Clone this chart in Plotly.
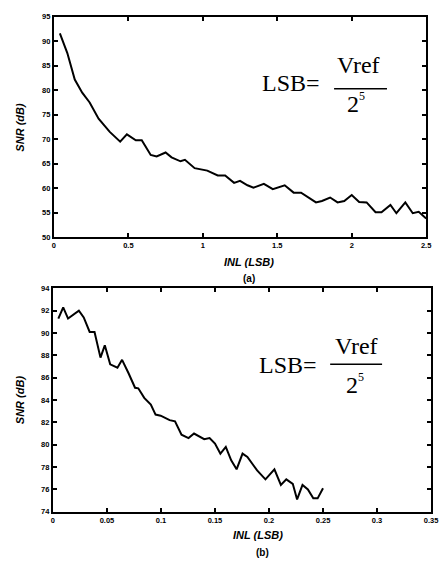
import plotly.graph_objects as go

# ---- data (a) ----
inl_a = [0.04, 0.09, 0.14, 0.19, 0.24, 0.30, 0.375, 0.445, 0.49, 0.55, 0.59, 0.65, 0.69, 0.75,
         0.79, 0.85, 0.88, 0.945, 1.03, 1.10, 1.15, 1.21, 1.25, 1.30, 1.34, 1.41, 1.47, 1.55,
         1.61, 1.66, 1.76, 1.80, 1.855, 1.905, 1.95, 2.0, 2.05, 2.10, 2.16, 2.20, 2.26, 2.30,
         2.36, 2.41, 2.45, 2.50]
snr_a = [91.6, 87.6, 82.2, 79.5, 77.5, 74.2, 71.5, 69.5, 71.0, 69.8, 69.8, 66.8, 66.5, 67.3,
         66.3, 65.5, 65.8, 64.1, 63.6, 62.6, 62.6, 61.1, 61.5, 60.6, 60.1, 60.9, 59.8, 60.6,
         59.1, 59.1, 57.1, 57.4, 58.1, 57.1, 57.4, 58.6, 57.2, 57.1, 55.1, 55.1, 56.6, 54.9,
         57.1, 54.9, 55.2, 53.8]

# ---- data (b) ----
inl_b = [0.005, 0.0095, 0.014, 0.024, 0.0285, 0.034, 0.0385, 0.044, 0.048, 0.053, 0.0597,
         0.064, 0.070, 0.076, 0.079, 0.0845, 0.0906, 0.095, 0.0997, 0.108, 0.113, 0.119,
         0.1255, 0.1306, 0.140, 0.145, 0.150, 0.155, 0.160, 0.165, 0.170, 0.1755, 0.180,
         0.189, 0.1967, 0.205, 0.211, 0.216, 0.222, 0.226, 0.231, 0.236, 0.241, 0.245, 0.250]
snr_b = [91.3, 92.3, 91.3, 92.0, 91.4, 90.1, 90.1, 87.8, 88.9, 87.2, 86.9, 87.6, 86.4, 85.1,
         85.05, 84.2, 83.6, 82.7, 82.6, 82.2, 82.1, 80.9, 80.6, 81.0, 80.5, 80.6, 80.1, 79.2,
         79.8, 78.6, 77.8, 79.2, 78.9, 77.7, 76.9, 77.8, 76.4, 76.9, 76.5, 75.1, 76.4, 76.0,
         75.2, 75.2, 76.1]

xticks_a = [0, 0.5, 1, 1.5, 2, 2.5]
xticklabels_a = ["0", "0.5", "1", "1.5", "2", "2.5"]
yticks_a = [50, 55, 60, 65, 70, 75, 80, 85, 90, 95]
xticks_b = [0, 0.05, 0.1, 0.15, 0.2, 0.25, 0.3, 0.35]
xticklabels_b = ["0", "0.05", "0.1", "0.15", "0.2", "0.25", "0.3", "0.35"]
yticks_b = [74, 76, 78, 80, 82, 84, 86, 88, 90, 92, 94]

W, H = 441, 563


def px(x):
    return x / W


def py(y):
    return 1 - y / H


fig = go.Figure()
fig.add_trace(go.Scatter(x=inl_a, y=snr_a, mode="lines", line=dict(color="black", width=2),
                         xaxis="x", yaxis="y", showlegend=False))
fig.add_trace(go.Scatter(x=inl_b, y=snr_b, mode="lines", line=dict(color="black", width=2),
                         xaxis="x2", yaxis="y2", showlegend=False))

tickfont = dict(family="Liberation Sans", size=7.5, color="black", weight="bold")
common = dict(showline=True, linecolor="black", linewidth=2, mirror="allticks", ticks="inside",
              ticklen=4, tickwidth=1.5, tickcolor="black", showgrid=False, zeroline=False,
              tickfont=tickfont)

fig.update_layout(
    width=W, height=H, margin=dict(l=0, r=0, t=0, b=0),
    paper_bgcolor="white", plot_bgcolor="white",
    xaxis=dict(domain=[px(53), px(433)], range=[0, 2.5], tickvals=xticks_a,
               ticktext=xticklabels_a, anchor="y", **common),
    yaxis=dict(domain=[py(237), py(13)], range=[50, 95], tickvals=yticks_a, anchor="x",
               **common),
    xaxis2=dict(domain=[px(52), px(438)], range=[0, 0.35], tickvals=xticks_b,
                ticktext=xticklabels_b, anchor="y2", **common),
    yaxis2=dict(domain=[py(516), py(289)], range=[74, 94], tickvals=yticks_b, anchor="x2",
                **common),
)

titlefont = dict(family="Liberation Sans", size=11, color="black", weight="bold", style="italic")
labfont = dict(family="Liberation Sans", size=10, color="black", weight="bold")
serif = dict(family="Liberation Serif", size=24, color="black")
serif_small = dict(family="Liberation Serif", size=12, color="black")

ann = []
# axis titles
for (xx, yy, t, f, ang) in [
    (18, 125, "SNR (dB)", titlefont, -90),
    (252, 262, "INL (LSB)", titlefont, 0),
    (252, 279, "(a)", labfont, 0),
    (18, 402, "SNR (dB)", titlefont, -90),
    (261, 540, "INL (LSB)", titlefont, 0),
    (266, 557, "(b)", labfont, 0),
]:
    ann.append(dict(x=px(xx), y=py(yy), xref="paper", yref="paper", text=t, showarrow=False,
                    font=f, textangle=ang, xanchor="center", yanchor="middle"))

# formula annotations
for (lx, ly, vx, vy, dx, dy, sx, sy, x0, x1, liney) in [
    (295, 80, 364, 62, 358, 102, 367, 94, 339, 393, 86),
    (292, 367, 362, 348, 357, 387, 366, 379, 335, 388, 366),
]:
    ann.append(dict(x=px(lx), y=py(ly), xref="paper", yref="paper", text="LSB=",
                    showarrow=False, font=serif, xanchor="center", yanchor="middle"))
    ann.append(dict(x=px(vx), y=py(vy), xref="paper", yref="paper", text="Vref",
                    showarrow=False, font=serif, xanchor="center", yanchor="middle"))
    ann.append(dict(x=px(dx), y=py(dy), xref="paper", yref="paper", text="2",
                    showarrow=False, font=serif, xanchor="center", yanchor="middle"))
    ann.append(dict(x=px(sx), y=py(sy), xref="paper", yref="paper", text="5",
                    showarrow=False, font=serif_small, xanchor="center", yanchor="middle"))
    fig.add_shape(type="line", xref="paper", yref="paper", x0=px(x0), x1=px(x1),
                  y0=py(liney), y1=py(liney), line=dict(color="black", width=1.5))

fig.update_layout(annotations=ann)
fig.write_html("out.html")
